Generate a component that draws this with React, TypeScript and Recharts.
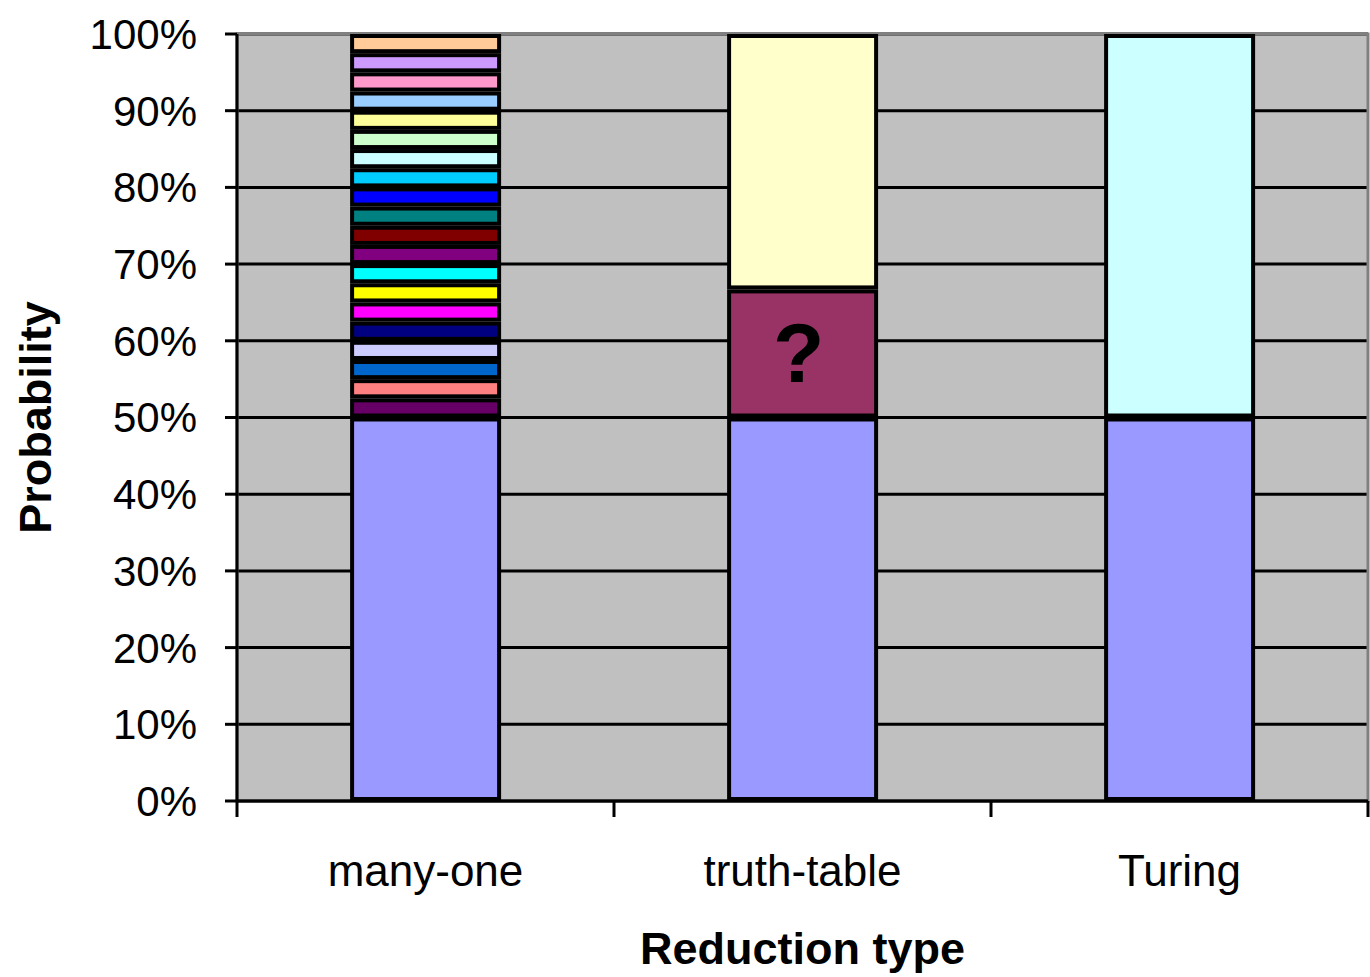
import React from "react";
import {
  BarChart,
  Bar,
  XAxis,
  YAxis,
  CartesianGrid,
  ReferenceArea,
  LabelList,
  Label,
} from "recharts";

const categories = ["many-one", "truth-table", "Turing"];
const baseValues = [50, 50, 50];
const baseColor = "#9999FF";

// many-one: twenty equal slices stacked above the 50% base
const manyOneSlices = [
  2.5, 2.5, 2.5, 2.5, 2.5, 2.5, 2.5, 2.5, 2.5, 2.5,
  2.5, 2.5, 2.5, 2.5, 2.5, 2.5, 2.5, 2.5, 2.5, 2.5,
];
const manyOneColors = [
  "#660066", "#FF8080", "#0066CC", "#CCCCFF", "#000080",
  "#FF00FF", "#FFFF00", "#00FFFF", "#800080", "#800000",
  "#008080", "#0000FF", "#00CCFF", "#CCFFFF", "#CCFFCC",
  "#FFFF99", "#99CCFF", "#FF99CC", "#CC99FF", "#FFCC99",
];
const truthTableSlices = [16.7, 33.3];
const truthTableColors = ["#993366", "#FFFFCC"];
const turingSlices = [50];
const turingColors = ["#CCFFFF"];

const yTicks = [0, 10, 20, 30, 40, 50, 60, 70, 80, 90, 100];

const sliceGroups = [manyOneSlices, truthTableSlices, turingSlices];
const colorGroups = [manyOneColors, truthTableColors, turingColors];

const data = categories.map((name, i) => {
  const row: Record<string, any> = { name, base: baseValues[i] };
  sliceGroups[i].forEach((v, j) => {
    row[`s${i}_${j}`] = v;
  });
  return row;
});

const FONT = "'Liberation Sans', Arial, sans-serif";

// each segment gets its own black frame, like the old Excel look
const BorderedRect = (props: any) => {
  const x = Number(props.x);
  const y = Number(props.y);
  const width = Number(props.width);
  const height = Number(props.height);
  if (!height || height <= 0 || !width) return <g />;
  const b = 4;
  return (
    <g>
      <rect x={x} y={y} width={width} height={height} fill="#000" />
      <rect
        x={x + b}
        y={y + b}
        width={Math.max(width - 2 * b, 0)}
        height={Math.max(height - 2 * b, 0)}
        fill={props.fill}
      />
    </g>
  );
};

const CategoryTick = (props: any) => {
  const { x, y, payload, index } = props;
  const half = payload?.offset ?? 0;
  const last = index === categories.length - 1;
  return (
    <g>
      <line x1={x - half} x2={x - half} y1={y} y2={y + 16} stroke="#000" strokeWidth={3} />
      {last && (
        <line x1={x + half} x2={x + half} y1={y} y2={y + 16} stroke="#000" strokeWidth={3} />
      )}
      <text
        x={x}
        y={y + 69}
        textAnchor="middle"
        dominantBaseline="central"
        fontFamily={FONT}
        fontSize={44}
        fill="#000"
      >
        {payload.value}
      </text>
    </g>
  );
};

const XTitle = (props: any) => {
  const { x, y, width } = props.viewBox;
  return (
    <text
      x={x + width / 2}
      y={y + 147}
      textAnchor="middle"
      dominantBaseline="central"
      fontFamily={FONT}
      fontWeight="bold"
      fontSize={45}
      fill="#000"
    >
      Reduction type
    </text>
  );
};

const YTitle = (props: any) => {
  const { y, height } = props.viewBox;
  const cx = 35;
  const cy = y + height / 2;
  return (
    <text
      x={cx}
      y={cy}
      transform={`rotate(-90, ${cx}, ${cy})`}
      textAnchor="middle"
      dominantBaseline="central"
      fontFamily={FONT}
      fontWeight="bold"
      fontSize={45}
      fill="#000"
    >
      Probability
    </text>
  );
};

const QuestionMark = (props: any) => {
  const { x, y, width, height, value } = props;
  if (value == null || !height) return null;
  return (
    <text
      x={x + width / 2 - 4}
      y={y + height / 2}
      textAnchor="middle"
      dominantBaseline="central"
      fontFamily={FONT}
      fontWeight="bold"
      fontSize={84}
      fill="#000"
    >
      ?
    </text>
  );
};

export default function App() {
  return (
    <div
      style={{
        position: "absolute",
        left: 0,
        top: 0,
        width: 1370,
        height: 977,
        background: "#fff",
      }}
    >
      <BarChart
        width={1370}
        height={977}
        data={data}
        margin={{ top: 34, right: 2, left: 0, bottom: 0 }}
        barCategoryGap="30%"
      >
        <CartesianGrid
          vertical={false}
          fill="#C0C0C0"
          stroke="#000"
          strokeWidth={3}
          fillOpacity={1}
        />
        <ReferenceArea y1={0} y2={100} fill="none" stroke="#808080" strokeWidth={3} />
        <XAxis
          dataKey="name"
          height={176}
          interval={0}
          tickSize={0}
          tickMargin={0}
          tickLine={false}
          axisLine={{ stroke: "#000", strokeWidth: 3 }}
          tick={<CategoryTick />}
        >
          <Label content={XTitle} />
        </XAxis>
        <YAxis
          domain={[0, 100]}
          ticks={yTicks}
          width={237}
          tickSize={12}
          tickMargin={28}
          tickFormatter={(v: number) => `${v}%`}
          axisLine={{ stroke: "#000", strokeWidth: 3 }}
          tickLine={{ stroke: "#000", strokeWidth: 3 }}
          tick={{ fill: "#000", fontSize: 42, fontFamily: FONT }}
        >
          <Label content={YTitle} />
        </YAxis>
        <Bar
          dataKey="base"
          stackId="a"
          fill={baseColor}
          shape={BorderedRect}
          isAnimationActive={false}
        />
        {sliceGroups.map((group, i) =>
          group.map((_, j) => (
            <Bar
              key={`s${i}_${j}`}
              dataKey={`s${i}_${j}`}
              stackId="a"
              fill={colorGroups[i][j]}
              shape={BorderedRect}
              isAnimationActive={false}
            >
              {i === 1 && j === 0 && (
                <LabelList dataKey={`s${i}_${j}`} content={QuestionMark} />
              )}
            </Bar>
          )),
        )}
      </BarChart>
    </div>
  );
}
